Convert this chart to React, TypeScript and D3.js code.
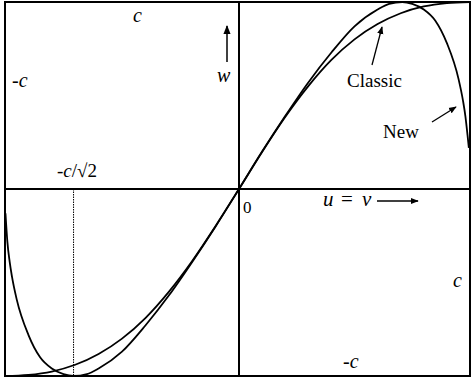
import React from 'react';
import * as d3 from 'd3';

// u = v values (in units of c) and the two composed velocities w
const classicU = [-1, -0.9, -0.8, -0.7, -0.6, -0.5, -0.4, -0.3, -0.2, -0.1, 0, 0.1, 0.2, 0.3, 0.4, 0.5, 0.6, 0.7, 0.8, 0.9, 1];
const classicW = [-1, -0.994, -0.976, -0.94, -0.882, -0.8, -0.69, -0.55, -0.385, -0.198, 0, 0.198, 0.385, 0.55, 0.69, 0.8, 0.882, 0.94, 0.976, 0.994, 1];

const newU = [-0.998, -0.99, -0.98, -0.97, -0.95, -0.9, -0.85, -0.8, -0.75, -0.707, -0.65, -0.6, -0.5, -0.4, -0.3, -0.2, -0.1, 0,
  0.1, 0.2, 0.3, 0.4, 0.5, 0.6, 0.65, 0.707, 0.75, 0.8, 0.85, 0.9, 0.95, 0.97, 0.98, 0.99, 0.995];
const newW = [-0.13, -0.28, -0.39, -0.47, -0.59, -0.78, -0.9, -0.96, -0.99, -1, -0.99, -0.96, -0.87, -0.73, -0.57, -0.39, -0.2, 0,
  0.2, 0.39, 0.57, 0.73, 0.87, 0.96, 0.99, 1, 0.99, 0.96, 0.9, 0.78, 0.59, 0.47, 0.39, 0.28, 0.22];

const markU = -0.707; // -c/sqrt2

const W = 471, H = 378;
const serif = 'Liberation Serif, DejaVu Serif, serif';

const App = () => {
  const x = d3.scaleLinear().domain([-1, 0, 1]).range([5, 239, 470]);
  const y = d3.scaleLinear().domain([-1, 0, 1]).range([376, 189, 2]);

  const line = d3.line<[number, number]>()
    .x(d => x(d[0]))
    .y(d => y(d[1]))
    .curve(d3.curveMonotoneX);

  const classicPts = classicU.map((u, i) => [u, classicW[i]] as [number, number]);
  const newPts = newU.map((u, i) => [u, newW[i]] as [number, number]);

  return (
    <svg width={W} height={H} style={{ position: 'absolute', left: 0, top: 0 }}
      fontFamily={serif} fontSize={19} fill="#000">
      <defs>
        <marker id="ah" viewBox="0 0 10 10" refX="9" refY="5" markerWidth="6" markerHeight="6" orient="auto">
          <path d="M0,1 L10,5 L0,9 z" fill="#000" />
        </marker>
      </defs>
      <rect x={x(-1)} y={y(1)} width={x(1) - x(-1)} height={y(-1) - y(1)} fill="white" stroke="#000" strokeWidth={2} />
      {/* axes */}
      <line x1={x(-1)} x2={x(1)} y1={y(0)} y2={y(0)} stroke="#000" strokeWidth={2} />
      <line x1={x(0)} x2={x(0)} y1={y(1)} y2={y(-1)} stroke="#000" strokeWidth={2} />
      {/* -c/sqrt2 marker */}
      <line x1={x(markU)} x2={x(markU)} y1={y(0)} y2={y(-1)} stroke="#000" strokeWidth={1} strokeDasharray="1.5,1" />

      <path d={line(classicPts) || ''} fill="none" stroke="#000" strokeWidth={1.8} />
      <path d={line(newPts) || ''} fill="none" stroke="#000" strokeWidth={1.8} />

      {/* labels */}
      <text x={133} y={22} fontStyle="italic" fontSize={20}>c</text>
      <text x={12} y={87} fontSize={20}>-<tspan fontStyle="italic">c</tspan></text>
      <text x={217} y={82} fontStyle="italic" fontSize={20}>w</text>
      <line x1={227} x2={227} y1={62} y2={26} stroke="#000" strokeWidth={1.5} markerEnd="url(#ah)" />

      <text x={57} y={177}>-<tspan fontStyle="italic">c</tspan>/√2</text>

      <text x={347} y={87}>Classic</text>
      <line x1={372} x2={382} y1={65} y2={27} stroke="#000" strokeWidth={1.3} markerEnd="url(#ah)" />
      <text x={383} y={138}>New</text>
      <line x1={432} x2={456} y1={122} y2={107} stroke="#000" strokeWidth={1.3} markerEnd="url(#ah)" />

      <text x={243} y={213} fontSize={17}>0</text>
      <text x={323} y={206} fontStyle="italic" fontSize={21}>u</text>
      <text x={341} y={206} fontSize={21}>=</text>
      <text x={362} y={206} fontStyle="italic" fontSize={21}>v</text>
      <line x1={377} x2={418} y1={201} y2={201} stroke="#000" strokeWidth={1.3} markerEnd="url(#ah)" />

      <text x={453} y={287} fontStyle="italic" fontSize={20}>c</text>
      <text x={343} y={368} fontSize={20}>-<tspan fontStyle="italic">c</tspan></text>
    </svg>
  );
};

export default App;
